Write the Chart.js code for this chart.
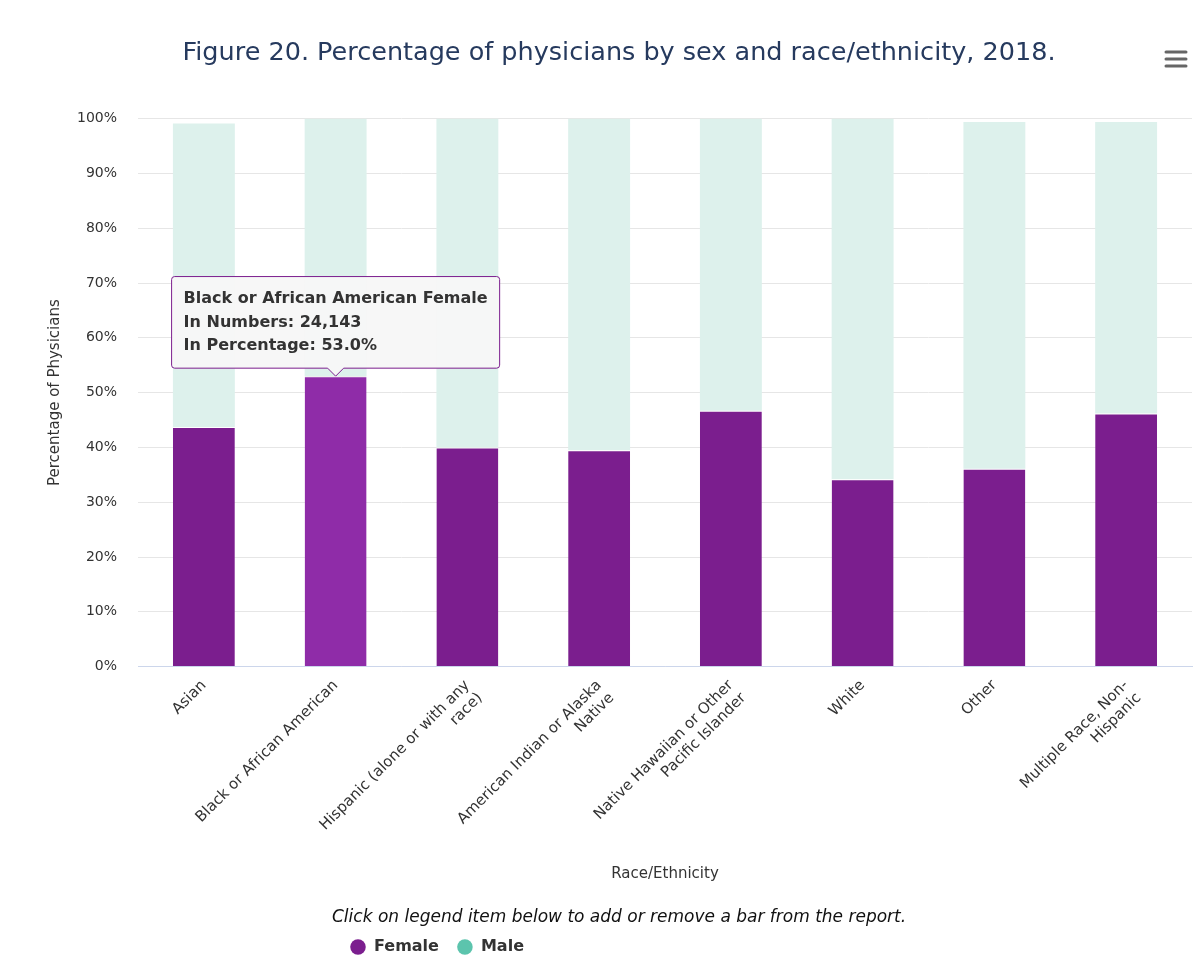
<!DOCTYPE html>
<html>
<head>
<meta charset="utf-8">
<script src="https://cdn.jsdelivr.net/npm/chart.js@4.4.1/dist/chart.umd.min.js"></script>
<style>
  html, body { margin: 0; padding: 0; background: #ffffff; }
  #wrap { width: 1200px; height: 971px; position: relative; }
</style>
</head>
<body>
<div id="wrap"><canvas id="c" width="1200" height="971"></canvas></div>
<script>
// ---- data ----
const categories = [
  "Asian",
  "Black or African American",
  ["Hispanic (alone or with any", "race)"],
  ["American Indian or Alaska", "Native"],
  ["Native Hawaiian or Other", "Pacific Islander"],
  "White",
  "Other",
  ["Multiple Race, Non-", "Hispanic"]
];
const categoryNames = [
  "Asian", "Black or African American", "Hispanic (alone or with any race)",
  "American Indian or Alaska Native", "Native Hawaiian or Other Pacific Islander",
  "White", "Other", "Multiple Race, Non-Hispanic"
];
const femalePct = [43.7, 53.0, 40.0, 39.5, 46.7, 34.2, 36.1, 46.2];
const malePct   = [55.4, 47.0, 60.0, 60.5, 53.3, 65.8, 63.3, 53.2];
const femaleNumbers = [null, 24143, null, null, null, null, null, null];
const maleNumbers   = [null, null, null, null, null, null, null, null];
const yTicks = [0, 10, 20, 30, 40, 50, 60, 70, 80, 90, 100];
const seriesNames = ["Female", "Male"];
const titleText = "Figure 20. Percentage of physicians by sex and race/ethnicity, 2018.";
const legendNote = "Click on legend item below to add or remove a bar from the report.";

const FEMALE = "#7b1e8e", FEMALE_HOVER = "#8f2ca8", MALE_BAR = "#ddf1ec", MALE = "#5cc4ad";
const FONT = "'DejaVu Sans', Verdana, sans-serif";

const menuPlugin = {
  id: "menu",
  afterDraw(chart) {
    const ctx = chart.ctx;
    ctx.save();
    ctx.strokeStyle = "#666666";
    ctx.lineWidth = 3;
    ctx.lineCap = "round";
    [52, 59, 66].forEach(y => {
      ctx.beginPath();
      ctx.moveTo(1166, y);
      ctx.lineTo(1186, y);
      ctx.stroke();
    });
    ctx.restore();
  }
};

// shift the legend block so the note and the items start at the same left edge
const legendShift = {
  id: "legendShift",
  afterLayout(chart) {
    if (chart.legend) chart.legend.left = 332;
  }
};

const chart = new Chart(document.getElementById("c"), {
  type: "bar",
  data: {
    labels: categories,
    datasets: [
      {
        label: seriesNames[0],
        data: femalePct,
        numbers: femaleNumbers,
        backgroundColor: FEMALE,
        hoverBackgroundColor: FEMALE_HOVER,
        borderColor: "#ffffff",
        borderWidth: { top: 1, left: 0, right: 0, bottom: 0 },
        borderSkipped: false,
        categoryPercentage: 1.0,
        barPercentage: 0.47
      },
      {
        label: seriesNames[1],
        data: malePct,
        numbers: maleNumbers,
        backgroundColor: MALE_BAR,
        hoverBackgroundColor: MALE_BAR,
        borderWidth: 0,
        categoryPercentage: 1.0,
        barPercentage: 0.47
      }
    ]
  },
  options: {
    responsive: false,
    animation: false,
    events: [],
    layout: { padding: { left: 46, right: 8, top: 0, bottom: 6 } },
    scales: {
      x: {
        stacked: true,
        grid: { display: false, drawTicks: false },
        border: { display: true, color: "#ccd6eb", width: 1 },
        ticks: {
          color: "#333333",
          font: { family: FONT, size: 15 },
          minRotation: 45,
          maxRotation: 45,
          autoSkip: false,
          padding: 10
        },
        title: {
          display: true,
          text: "Race/Ethnicity",
          color: "#333333",
          font: { family: FONT, size: 15 },
          padding: { top: 20, bottom: 21 }
        },
        afterFit(scale) { scale.height = 238; }
      },
      y: {
        stacked: true,
        min: 0,
        max: 100,
        afterBuildTicks(scale) { scale.ticks = yTicks.map(v => ({ value: v })); },
        grid: { color: "#e6e6e6", drawTicks: false },
        border: { display: false },
        ticks: {
          color: "#333333",
          font: { family: FONT, size: 14 },
          padding: 21,
          callback: v => v + "%"
        },
        title: {
          display: true,
          text: "Percentage of Physicians",
          color: "#333333",
          font: { family: FONT, size: 15 },
          padding: { top: 0, bottom: 10 }
        },
        afterFit(scale) { scale.width = 92; }
      }
    },
    plugins: {
      title: {
        display: true,
        text: titleText,
        color: "#263a5e",
        font: { family: FONT, size: 25.5, weight: "normal" },
        padding: { top: 38, bottom: 50 }
      },
      legend: {
        display: true,
        position: "bottom",
        align: "start",
        title: {
          display: true,
          text: legendNote,
          position: "start",
          color: "#111111",
          font: { family: FONT, size: 17, style: "italic" },
          padding: { top: 4, bottom: -8 }
        },
        labels: {
          usePointStyle: true,
          pointStyle: "circle",
          boxWidth: 16,
          boxHeight: 11,
          padding: 18,
          color: "#333333",
          font: { family: FONT, size: 16, weight: "bold" },
          generateLabels(chart) {
            return seriesNames.map((n, i) => ({
              text: n,
              fillStyle: i === 0 ? FEMALE : MALE,
              strokeStyle: i === 0 ? FEMALE : MALE,
              lineWidth: 0,
              pointStyle: "circle",
              datasetIndex: i,
              fontColor: "#333333"
            }));
          }
        }
      },
      tooltip: {
        enabled: true,
        backgroundColor: "rgba(247,247,247,0.97)",
        borderColor: FEMALE,
        borderWidth: 1,
        titleColor: "#333333",
        bodyColor: "#333333",
        titleFont: { family: FONT, size: 16, weight: "bold" },
        bodyFont: { family: FONT, size: 16, weight: "bold" },
        titleMarginBottom: 4,
        bodySpacing: 4,
        padding: { left: 12, right: 12, top: 13, bottom: 13 },
        caretSize: 8,
        caretPadding: 0,
        cornerRadius: 3,
        displayColors: false,
        yAlign: "bottom",
        xAlign: "center",
        callbacks: {
          title(items) {
            const it = items[0];
            return categoryNames[it.dataIndex] + " " + it.dataset.label;
          },
          label(it) {
            const n = it.dataset.numbers[it.dataIndex];
            return [
              "In Numbers: " + (n == null ? "" : n.toLocaleString("en-US")),
              "In Percentage: " + it.parsed.y.toFixed(1) + "%"
            ];
          }
        }
      }
    }
  },
  plugins: [menuPlugin, legendShift]
});

const active = [{ datasetIndex: 0, index: 1 }];
chart.setActiveElements(active);
const el = chart.getDatasetMeta(0).data[1];
chart.tooltip.setActiveElements(active, { x: el.x, y: el.y });
chart.update("none");
</script>
</body>
</html>
